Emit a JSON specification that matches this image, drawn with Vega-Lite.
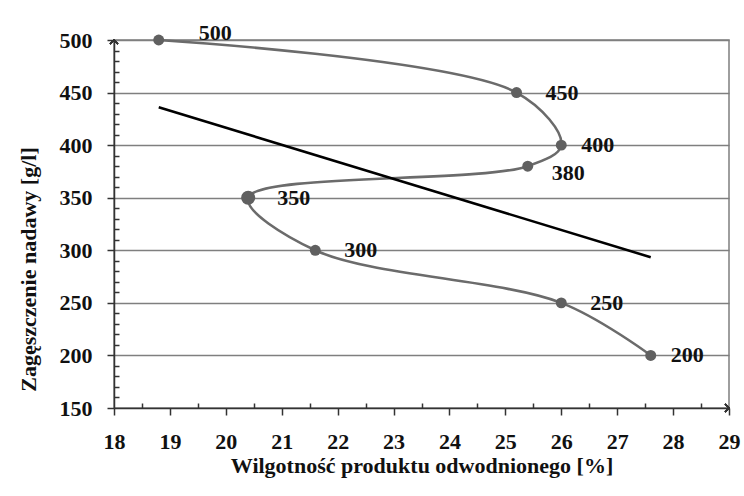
{
  "$schema": "https://vega.github.io/schema/vega-lite/v6.json",
  "width": 615,
  "height": 368,
  "autosize": "none",
  "padding": {"left": 114, "top": 40, "right": 15, "bottom": 88},
  "background": "white",
  "config": {
    "view": {"stroke": "#7f7f7f", "strokeWidth": 1.5},
    "font": "Liberation Serif"
  },
  "data": {
    "values": [
      {"o": 1, "W": 18.8, "Z": 500},
      {"o": 2, "W": 25.2, "Z": 450},
      {"o": 3, "W": 26.0, "Z": 400},
      {"o": 4, "W": 25.4, "Z": 380},
      {"o": 5, "W": 20.4, "Z": 350},
      {"o": 6, "W": 21.6, "Z": 300},
      {"o": 7, "W": 26.0, "Z": 250},
      {"o": 8, "W": 27.6, "Z": 200}
    ]
  },
  "encoding": {
    "x": {
      "field": "W", "type": "quantitative",
      "scale": {"domain": [18, 29], "nice": false, "zero": false},
      "axis": {
        "title": "Wilgotność produktu odwodnionego [%]",
        "values": [18, 18.5, 19, 19.5, 20, 20.5, 21, 21.5, 22, 22.5, 23, 23.5, 24, 24.5, 25, 25.5, 26, 26.5, 27, 27.5, 28, 28.5, 29],
        "labelExpr": "datum.value % 1 == 0 ? format(datum.value, 'd') : ''",
        "tickSize": {"condition": {"test": "datum.value % 1 == 0", "value": 7}, "value": -5},
        "tickColor": "#333333",
        "tickWidth": 1.5,
        "domainColor": "#333333",
        "domainWidth": 1.5,
        "grid": false,
        "labelFont": "Liberation Serif",
        "labelFontWeight": "bold",
        "labelFontSize": 22,
        "labelColor": "#111111",
        "labelPadding": 16,
        "labelFlush": false,
        "labelOverlap": false,
        "titleFont": "Liberation Serif",
        "titleFontWeight": "bold",
        "titleFontSize": 22,
        "titleColor": "#111111",
        "titlePadding": 3
      }
    },
    "y": {
      "field": "Z", "type": "quantitative",
      "scale": {"domain": [150, 500], "nice": false, "zero": false},
      "axis": {
        "title": "Zagęszczenie nadawy [g/l]",
        "values": [150, 160, 170, 180, 190, 200, 210, 220, 230, 240, 250, 260, 270, 280, 290, 300, 310, 320, 330, 340, 350, 360, 370, 380, 390, 400, 410, 420, 430, 440, 450, 460, 470, 480, 490, 500],
        "labelExpr": "datum.value % 50 == 0 ? datum.label : ''",
        "tickSize": {"condition": {"test": "datum.value % 50 == 0", "value": 7}, "value": -5},
        "tickColor": "#333333",
        "tickWidth": 1.5,
        "domainColor": "#333333",
        "domainWidth": 1.5,
        "grid": true,
        "gridColor": "#7f7f7f",
        "gridWidth": 1.3,
        "gridOpacity": {"condition": {"test": "datum.value % 50 == 0 && datum.value > 150", "value": 1}, "value": 0},
        "labelFont": "Liberation Serif",
        "labelFontWeight": "bold",
        "labelFontSize": 22,
        "labelColor": "#111111",
        "labelPadding": 15,
        "labelOverlap": false,
        "labelFlush": false,
        "titleFont": "Liberation Serif",
        "titleFontWeight": "bold",
        "titleFontSize": 22,
        "titleColor": "#111111",
        "titleAngle": -90,
        "titleAlign": "center",
        "titleBaseline": "middle",
        "titleX": -86,
        "titleY": 229
      }
    }
  },
  "layer": [
    {
      "mark": {"type": "line", "interpolate": "catmull-rom", "color": "#6b6b6b", "strokeWidth": 2.6},
      "encoding": {"order": {"field": "o", "type": "quantitative"}}
    },
    {
      "transform": [{"regression": "Z", "on": "W"}],
      "mark": {"type": "line", "color": "#000000", "strokeWidth": 2.6}
    },
    {
      "mark": {"type": "circle", "size": 120, "color": "#606060", "opacity": 1}
    },
    {
      "transform": [{"filter": "datum.Z == 350"}],
      "mark": {"type": "circle", "size": 200, "color": "#606060", "opacity": 1}
    },
    {
      "transform": [{"filter": "datum.Z == 450 || datum.Z == 350 || datum.Z == 300 || datum.Z == 250"}],
      "mark": {"type": "text", "align": "left", "baseline": "middle", "dx": 29, "font": "Liberation Serif", "fontWeight": "bold", "fontSize": 22, "color": "#111111"},
      "encoding": {"text": {"field": "Z", "type": "quantitative"}}
    },
    {
      "transform": [{"filter": "datum.Z == 400 || datum.Z == 200"}],
      "mark": {"type": "text", "align": "left", "baseline": "middle", "dx": 20, "font": "Liberation Serif", "fontWeight": "bold", "fontSize": 22, "color": "#111111"},
      "encoding": {"text": {"field": "Z", "type": "quantitative"}}
    },
    {
      "transform": [{"filter": "datum.Z == 500"}],
      "mark": {"type": "text", "align": "left", "baseline": "middle", "dx": 40, "dy": -7, "font": "Liberation Serif", "fontWeight": "bold", "fontSize": 22, "color": "#111111"},
      "encoding": {"text": {"field": "Z", "type": "quantitative"}}
    },
    {
      "transform": [{"filter": "datum.Z == 380"}],
      "mark": {"type": "text", "align": "left", "baseline": "middle", "dx": 24, "dy": 7, "font": "Liberation Serif", "fontWeight": "bold", "fontSize": 22, "color": "#111111"},
      "encoding": {"text": {"field": "Z", "type": "quantitative"}}
    },
    {
      "mark": {"type": "point", "shape": "M-1,1L0,0L1,1", "filled": false, "stroke": "#333333", "strokeWidth": 1.5, "size": 60, "opacity": 1},
      "encoding": {"x": {"datum": 18}, "y": {"datum": 500}}
    },
    {
      "mark": {"type": "point", "shape": "M-1,-1L0,0L-1,1", "filled": false, "stroke": "#333333", "strokeWidth": 1.5, "size": 60, "opacity": 1},
      "encoding": {"x": {"datum": 29}, "y": {"datum": 150}}
    }
  ]
}
